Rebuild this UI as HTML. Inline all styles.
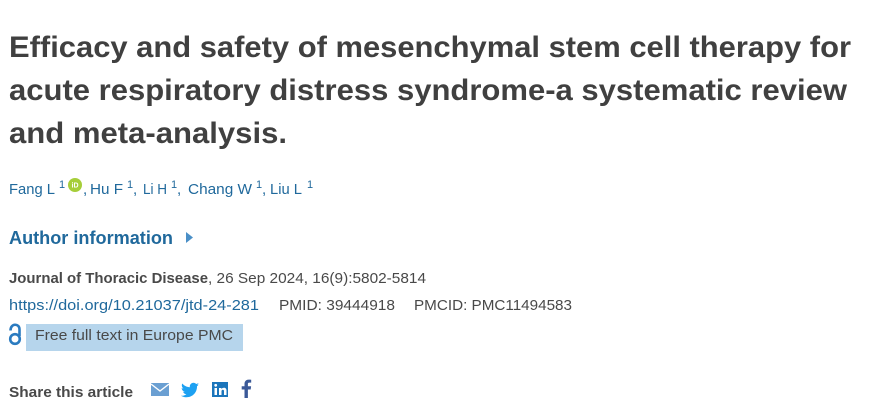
<!DOCTYPE html>
<html>
<head>
<meta charset="utf-8">
<style>
  html, body { margin: 0; padding: 0; background: #ffffff; }
  body { width: 875px; height: 417px; overflow: hidden; }
  svg { display: block; font-family: "Liberation Sans", "DejaVu Sans", sans-serif; }
</style>
</head>
<body>
<svg width="875" height="417" viewBox="0 0 875 417" xmlns="http://www.w3.org/2000/svg">
  <rect width="875" height="417" fill="#ffffff"/>

  <!-- Title -->
  <g font-size="30" font-weight="bold" fill="#404040">
    <text x="9" y="57" textLength="842" lengthAdjust="spacingAndGlyphs">Efficacy and safety of mesenchymal stem cell therapy for</text>
    <text x="9" y="100" textLength="838" lengthAdjust="spacingAndGlyphs">acute respiratory distress syndrome-a systematic review</text>
    <text x="9" y="143" textLength="278" lengthAdjust="spacingAndGlyphs">and meta-analysis.</text>
  </g>

  <!-- Authors -->
  <g font-size="15" fill="#20699c">
    <text x="9" y="194" textLength="46" lengthAdjust="spacingAndGlyphs">Fang L</text>
    <text x="59" y="188" font-size="11">1</text>
    <circle cx="75" cy="185" r="7" fill="#a6ce39"/>
    <text x="75" y="187.5" font-size="7" fill="#ffffff" text-anchor="middle" font-weight="bold">iD</text>
    <text x="83" y="194">,</text>
    <text x="90" y="194" textLength="33" lengthAdjust="spacingAndGlyphs">Hu F</text>
    <text x="127" y="188" font-size="11">1</text>
    <text x="133" y="194">,</text>
    <text x="143" y="194" textLength="24" lengthAdjust="spacingAndGlyphs">Li H</text>
    <text x="171" y="188" font-size="11">1</text>
    <text x="177" y="194">,</text>
    <text x="188" y="194" textLength="64" lengthAdjust="spacingAndGlyphs">Chang W</text>
    <text x="256" y="188" font-size="11">1</text>
    <text x="262" y="194">,</text>
    <text x="270" y="194" textLength="32" lengthAdjust="spacingAndGlyphs">Liu L</text>
    <text x="307" y="188" font-size="11">1</text>
  </g>

  <!-- Author information -->
  <text x="9" y="244" font-size="18" font-weight="bold" fill="#20699c" textLength="164" lengthAdjust="spacingAndGlyphs">Author information</text>
  <polygon points="186,232 193,237.5 186,243" fill="#4a8fc7"/>

  <!-- Journal line -->
  <g font-size="15" fill="#494949">
    <text x="9" y="283" font-weight="bold" textLength="199" lengthAdjust="spacingAndGlyphs">Journal of Thoracic Disease</text>
    <text x="208" y="283" textLength="218" lengthAdjust="spacingAndGlyphs">, 26 Sep 2024, 16(9):5802-5814</text>
  </g>

  <!-- DOI line -->
  <g font-size="15">
    <text x="9" y="310" fill="#20699c" textLength="250" lengthAdjust="spacingAndGlyphs">https://doi.org/10.21037/jtd-24-281</text>
    <text x="279" y="310" fill="#494949" textLength="116" lengthAdjust="spacingAndGlyphs">PMID: 39444918</text>
    <text x="414" y="310" fill="#494949" textLength="158" lengthAdjust="spacingAndGlyphs">PMCID: PMC11494583</text>
  </g>

  <!-- Open access icon -->
  <g fill="none" stroke="#2b7bc0" stroke-width="2.6">
    <circle cx="15" cy="339" r="4.8"/>
    <path d="M10.5 330.5 C10.5 323, 19.5 323, 19.5 329.5 L19.5 336"/>
  </g>

  <!-- Free full text box -->
  <rect x="26" y="324" width="217" height="27" fill="#b6d5ec"/>
  <text x="35" y="340" font-size="15" fill="#494949" textLength="198" lengthAdjust="spacingAndGlyphs">Free full text in Europe PMC</text>

  <!-- Share -->
  <text x="9" y="397" font-size="15" font-weight="bold" fill="#494949" textLength="124" lengthAdjust="spacingAndGlyphs">Share this article</text>

  <!-- Mail icon -->
  <rect x="151" y="383" width="18" height="13" fill="#6a9fd2"/>
  <polyline points="151,384 160,391 169,384" fill="none" stroke="#ffffff" stroke-width="1.4"/>

  <!-- Twitter icon -->
  <path d="M199 384.5 c-0.7 0.3 -1.4 0.5 -2.1 0.6 c0.8 -0.5 1.3 -1.2 1.6 -2 c-0.7 0.4 -1.5 0.7 -2.3 0.9 c-0.7 -0.7 -1.6 -1.2 -2.7 -1.2 c-2 0 -3.7 1.7 -3.7 3.7 c0 0.3 0 0.6 0.1 0.8 c-3.1 -0.2 -5.8 -1.6 -7.6 -3.8 c-0.3 0.5 -0.5 1.2 -0.5 1.9 c0 1.3 0.7 2.4 1.6 3.1 c-0.6 0 -1.2 -0.2 -1.7 -0.5 c0 1.8 1.3 3.3 3 3.6 c-0.3 0.1 -0.6 0.1 -1 0.1 c-0.2 0 -0.5 0 -0.7 -0.1 c0.5 1.5 1.8 2.5 3.4 2.6 c-1.3 1 -2.9 1.6 -4.6 1.6 c-0.3 0 -0.6 0 -0.9 -0.1 c1.6 1 3.6 1.6 5.6 1.6 c6.8 0 10.5 -5.6 10.5 -10.5 l0 -0.5 c0.7 -0.5 1.3 -1.2 1.8 -1.9 z" fill="#1da1f2"/>

  <!-- LinkedIn icon -->
  <rect x="212" y="382" width="16" height="15" fill="#1b75bb"/>
  <rect x="214.5" y="388" width="2.5" height="7" fill="#ffffff"/>
  <circle cx="215.7" cy="385.3" r="1.4" fill="#ffffff"/>
  <path d="M219 388 h2.4 v1.2 c0.5 -0.9 1.5 -1.4 2.6 -1.4 c1.8 0 2.5 1.2 2.5 3 v4.2 h-2.5 v-3.8 c0 -0.9 -0.3 -1.5 -1.2 -1.5 c-0.9 0 -1.3 0.7 -1.3 1.6 v3.7 h-2.5 z" fill="#ffffff"/>

  <!-- Facebook icon -->
  <path d="M244.5 398 v-8.5 h-2.8 v-3.2 h2.8 v-2.4 c0 -2.8 1.7 -4.3 4.2 -4.3 c1.2 0 2.2 0.1 2.5 0.1 v2.9 h-1.7 c-1.4 0 -1.6 0.6 -1.6 1.6 v2.1 h3.2 l-0.4 3.2 h-2.8 v8.5 z" fill="#3b5998"/>
</svg>
</body>
</html>
